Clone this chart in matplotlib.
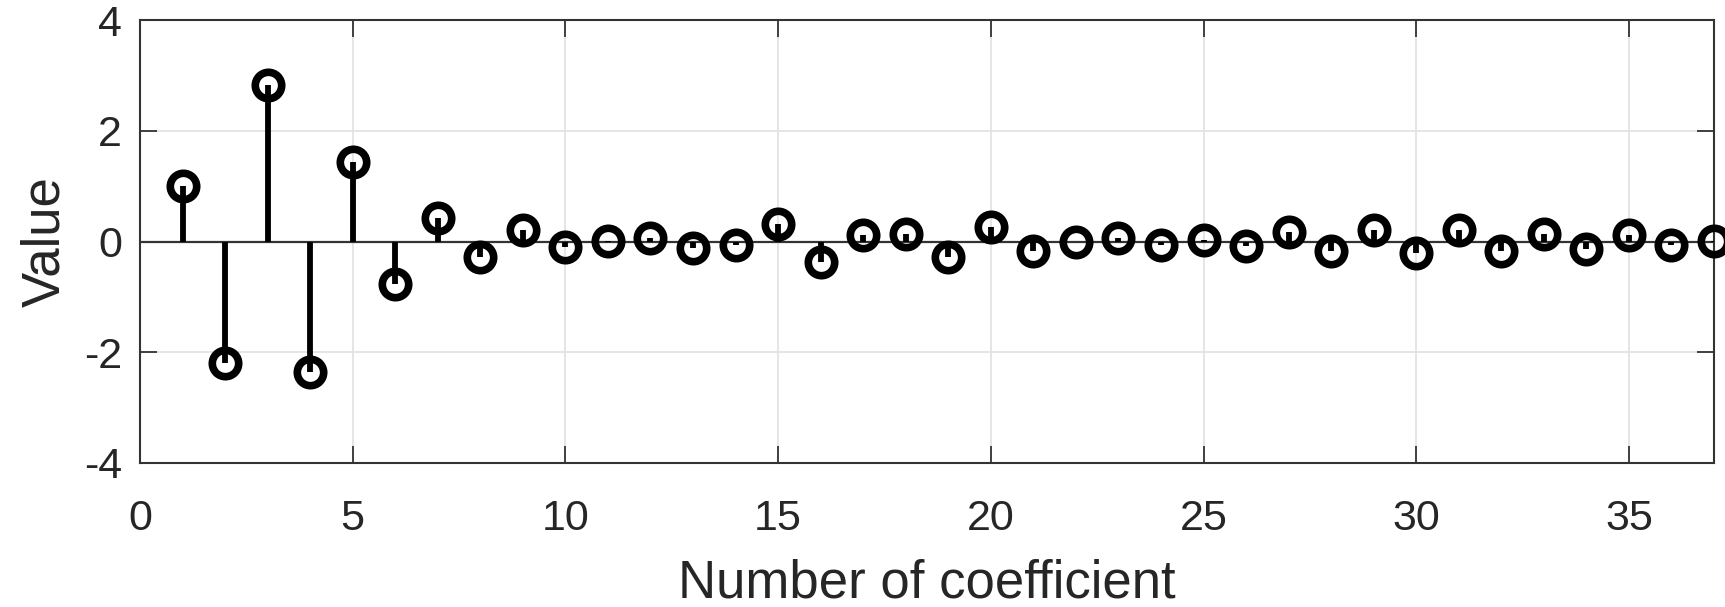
import matplotlib
matplotlib.use("Agg")
import matplotlib.pyplot as plt
import numpy as np

coef_index = list(range(1, 38))
coef_values = [1.00, -2.20, 2.82, -2.36, 1.44, -0.76, 0.42, -0.28, 0.21, -0.10,
               0.01, 0.07, -0.11, -0.06, 0.31, -0.37, 0.12, 0.14, -0.28, 0.27,
               -0.18, 0.00, 0.07, -0.06, 0.03, -0.09, 0.17, -0.17, 0.20, -0.21,
               0.21, -0.17, 0.14, -0.13, 0.11, -0.07, 0.01]
x_ticks = [0, 5, 10, 15, 20, 25, 30, 35]
y_ticks = [-4, -2, 0, 2, 4]

plt.rcParams['font.family'] = ['Liberation Sans', 'DejaVu Sans']
plt.rcParams['axes.unicode_minus'] = False
txt = '#262626'

fig = plt.figure(figsize=(17.25, 6.07), dpi=100)
ax = fig.add_axes([140/1725, 1-463/607, (1714-140)/1725, (463-20)/607])

ax.set_xlim(0, 37)
ax.set_ylim(-4, 4)
ax.grid(True, color='#e3e3e3', linewidth=1.3)
ax.set_axisbelow(True)

ax.axhline(0, color='#333333', linewidth=1.6, zorder=2)
ax.vlines(coef_index, 0, coef_values, color='black', linewidth=4.2, zorder=3)
ax.plot(coef_index, coef_values, linestyle='none', marker='o', markersize=19,
        markerfacecolor='none', markeredgecolor='black', markeredgewidth=5.5,
        zorder=4, clip_on=False)

ax.set_xticks(x_ticks)
ax.set_yticks(y_ticks)
ax.tick_params(direction='in', length=12, width=1.3, colors='#333333',
               labelcolor=txt, labelsize=31, top=True, right=True)
ax.tick_params(axis='x', pad=26)
ax.tick_params(axis='y', pad=13)
for s in ax.spines.values():
    s.set_color('#333333')
    s.set_linewidth(1.5)

ax.set_xlabel('Number of coefficient', fontsize=38, color=txt, labelpad=14)
ax.set_ylabel('Value', fontsize=38, color=txt, labelpad=10)

fig.savefig('out.png', dpi=100, facecolor='white')
